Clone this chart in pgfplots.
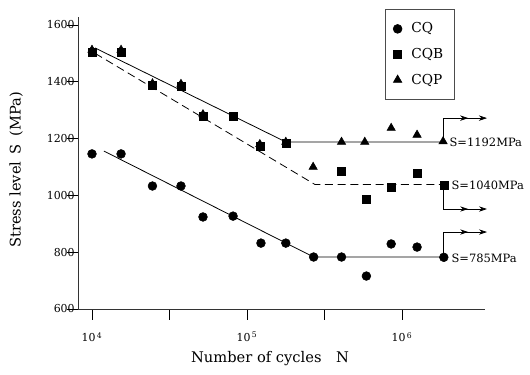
\documentclass[border=0pt]{standalone}
\usepackage{fontspec}
\setmainfont{DejaVu Serif}
\usepackage{pgfplots}
\pgfplotsset{compat=1.18}
\usetikzlibrary{arrows.meta}
\begin{document}
\begin{tikzpicture}
\path[use as bounding box] (-58.5pt,-48.75pt) rectangle (339pt,231.75pt);
\begin{axis}[
  scale only axis, width=305.25pt, height=219pt,
  xmode=log, xmin=8125, xmax=3.43e6, ymin=600, ymax=1628,
  axis x line*=bottom, axis y line*=left,
  axis line style={line width=0.5pt, black!80},
  clip=false,
  tick align=outside, major tick length=8pt, minor tick length=8pt,
  tick style={line width=0.5pt, black},
  xtick={1e4,1e5,1e6},
  xticklabels={10\textsuperscript{\,4},10\textsuperscript{\,5},10\textsuperscript{\,6}},
  minor xtick={31623,316228},
  ytick={600,800,1000,1200,1400,1600},
  yticklabel style={/pgf/number format/1000 sep={}, xshift=9pt},
  xticklabel style={yshift=-6pt},
  /pgf/number format/assume math mode=true,
  tick label style={font=\fontsize{8.2}{9}\selectfont},
  xlabel={Number of cycles\quad N},
  ylabel={Stress level\enspace S\enspace (MPa)},
  label style={font=\fontsize{11}{12}\selectfont},
  xlabel style={at={(rel axis cs:0.472,-0.168)}, anchor=center},
  ylabel style={at={(rel axis cs:-0.152,0.476)}, anchor=center},
  legend style={at={(rel axis cs:0.754,1.027)}, anchor=north west, draw=black!70,
    line width=0.5pt, font=\fontsize{10.3}{11}\selectfont, inner xsep=6pt, inner ysep=8pt,
    row sep=6pt, /tikz/every odd column/.append style={column sep=5pt}},
  legend cell align=left,
]
% CQ
\addplot[only marks, mark=*, mark size=3.3pt, black] coordinates {
(1e4,1146) (15400,1146) (24550,1033) (37500,1033) (52000,924) (81300,927)
(123000,832) (178000,832) (269000,783) (407000,783) (589000,716) (851000,829)
(1.25e6,818) (1.86e6,782)};
\addlegendentry{CQ}
% CQB
\addplot[only marks, mark=square*, mark size=3pt, black] coordinates {
(1e4,1505) (15400,1505) (24550,1389) (37500,1385) (52000,1280) (81300,1280)
(121000,1174) (178000,1185) (407000,1086) (589000,987) (851000,1030)
(1.25e6,1079) (1.86e6,1035)};
\addlegendentry{CQB\hspace{6pt}}
% CQP
\addplot[only marks, mark=triangle*, mark size=3.6pt, black] coordinates {
(1e4,1512) (15400,1512) (24550,1394) (37500,1392) (52000,1285)
(121000,1180) (178000,1188) (267000,1100) (407000,1188) (575000,1188)
(851000,1237) (1.25e6,1213) (1.84e6,1190)};
\addlegendentry{CQP}
% fitted lines
\addplot[forget plot, black, line width=0.6pt] coordinates {(10470,1519) (178000,1188) (1.84e6,1188)};
\addplot[forget plot, black, line width=0.6pt, dash pattern=on 6pt off 3.5pt] coordinates {(10470,1500) (275000,1038) (1.86e6,1038)};
\addplot[forget plot, black, line width=0.6pt] coordinates {(11940,1156) (269000,783) (1.86e6,783)};
% arrows
\draw[black, line width=0.5pt, -{Stealth[length=6pt,width=4pt]}] (axis cs:1.84e6,1188) -- (axis cs:1.84e6,1272) -- (axis cs:3.53e6,1272);
\draw[black, line width=0.5pt, -{Stealth[length=6pt,width=4pt]}] (axis cs:1.84e6,1272) -- (axis cs:2.67e6,1272);
\draw[black, line width=0.5pt, -{Stealth[length=6pt,width=4pt]}] (axis cs:1.86e6,1038) -- (axis cs:1.86e6,952) -- (axis cs:3.53e6,952);
\draw[black, line width=0.5pt, -{Stealth[length=6pt,width=4pt]}] (axis cs:1.86e6,952) -- (axis cs:2.67e6,952);
\draw[black, line width=0.5pt, -{Stealth[length=6pt,width=4pt]}] (axis cs:1.86e6,783) -- (axis cs:1.86e6,871) -- (axis cs:3.53e6,871);
\draw[black, line width=0.5pt, -{Stealth[length=6pt,width=4pt]}] (axis cs:1.86e6,871) -- (axis cs:2.67e6,871);
% labels
\node[anchor=west, inner sep=0pt, font=\fontsize{8.6}{10}\selectfont] at (axis cs:2.02e6,1188) {S=1192MPa};
\node[anchor=west, inner sep=0pt, font=\fontsize{8.6}{10}\selectfont] at (axis cs:2.08e6,1034) {S=1040MPa};
\node[anchor=west, inner sep=0pt, font=\fontsize{8.6}{10}\selectfont] at (axis cs:2.08e6,780) {S=785MPa};
\end{axis}
\end{tikzpicture}
\end{document}
